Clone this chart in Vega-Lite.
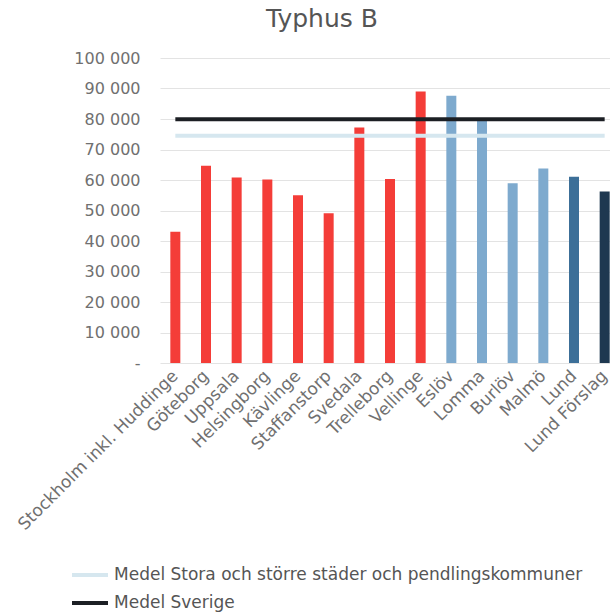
{
  "$schema": "https://vega.github.io/schema/vega-lite/v6.json",
  "width": 460,
  "height": 305,
  "autosize": {"type": "none"},
  "padding": {"left": 160, "top": 58, "right": 0, "bottom": 253},
  "background": "white",
  "title": {
    "text": "Typhus B",
    "anchor": "middle",
    "dx": -68,
    "offset": 18,
    "fontSize": 25,
    "font": "DejaVu Sans",
    "fontWeight": "normal",
    "color": "#555555"
  },
  "config": {
    "view": {"stroke": null},
    "font": "DejaVu Sans"
  },
  "datasets": {
    "bars": [
      {"kommun": "Stockholm inkl. Huddinge", "grupp": "Jämförelse", "kostnad": 43000},
      {"kommun": "Göteborg", "grupp": "Jämförelse", "kostnad": 64700},
      {"kommun": "Uppsala", "grupp": "Jämförelse", "kostnad": 60800},
      {"kommun": "Helsingborg", "grupp": "Jämförelse", "kostnad": 60200},
      {"kommun": "Kävlinge", "grupp": "Jämförelse", "kostnad": 55000},
      {"kommun": "Staffanstorp", "grupp": "Jämförelse", "kostnad": 49100},
      {"kommun": "Svedala", "grupp": "Jämförelse", "kostnad": 77200},
      {"kommun": "Trelleborg", "grupp": "Jämförelse", "kostnad": 60300},
      {"kommun": "Vellinge", "grupp": "Jämförelse", "kostnad": 89000},
      {"kommun": "Eslöv", "grupp": "Grannar", "kostnad": 87600},
      {"kommun": "Lomma", "grupp": "Grannar", "kostnad": 79500},
      {"kommun": "Burlöv", "grupp": "Grannar", "kostnad": 58900},
      {"kommun": "Malmö", "grupp": "Grannar", "kostnad": 63800},
      {"kommun": "Lund", "grupp": "Lund", "kostnad": 61100},
      {"kommun": "Lund Förslag", "grupp": "Lund Förslag", "kostnad": 56200}
    ],
    "medel": [
      {"serie": "Medel Stora och större städer och pendlingskommuner", "kostnad": 74500, "fran": "Stockholm inkl. Huddinge", "till": "Lund Förslag"},
      {"serie": "Medel Sverige", "kostnad": 79900, "fran": "Stockholm inkl. Huddinge", "till": "Lund Förslag"}
    ]
  },
  "encoding": {
    "y": {
      "field": "kostnad",
      "type": "quantitative",
      "scale": {"domain": [0, 100000], "nice": false},
      "axis": {
        "title": null,
        "values": [0, 10000, 20000, 30000, 40000, 50000, 60000, 70000, 80000, 90000, 100000],
        "labelExpr": "datum.value == 0 ? '-' : replace(format(datum.value, ',d'), ',', ' ')",
        "labelFontSize": 16,
        "labelColor": "#707070",
        "labelPadding": 20,
        "labelOverlap": false,
        "ticks": false,
        "domain": false,
        "gridColor": "#e3e3e3",
        "gridWidth": 1
      }
    }
  },
  "layer": [
    {
      "data": {"name": "bars"},
      "mark": {"type": "bar", "size": 10},
      "encoding": {
        "x": {
          "field": "kommun",
          "type": "nominal",
          "sort": null,
          "scale": {
            "domain": ["Stockholm inkl. Huddinge", "Göteborg", "Uppsala", "Helsingborg", "Kävlinge", "Staffanstorp", "Svedala", "Trelleborg", "Vellinge", "Eslöv", "Lomma", "Burlöv", "Malmö", "Lund", "Lund Förslag"],
            "paddingInner": 0, "paddingOuter": 0
          },
          "axis": {
            "title": null,
            "labelAngle": -45,
            "labelFontSize": 17,
            "labelColor": "#707070",
            "ticks": false,
            "domain": false,
            "grid": false,
            "labelPadding": 10,
            "labelAlign": "right",
            "labelBaseline": "middle",
            "labelLimit": 400
          }
        },
        "fill": {
          "field": "grupp",
          "type": "nominal",
          "scale": {"domain": ["Jämförelse", "Grannar", "Lund", "Lund Förslag"], "range": ["#f43d38", "#7eaace", "#3c6f98", "#1e3850"]},
          "legend": null
        }
      }
    },
    {
      "data": {"name": "medel"},
      "mark": {"type": "rule", "strokeWidth": 4},
      "encoding": {
        "x": {"field": "fran", "type": "nominal"},
        "x2": {"field": "till"},
        "stroke": {
          "field": "serie",
          "type": "nominal",
          "sort": null,
          "scale": {"domain": ["Medel Stora och större städer och pendlingskommuner", "Medel Sverige"], "range": ["#d6e7ef", "#1c1f24"]},
          "legend": {
            "title": null,
            "orient": "none",
            "legendX": -90,
            "legendY": 497,
            "symbolType": "stroke",
            "symbolSize": 1296,
            "symbolStrokeWidth": 4,
            "labelFontSize": 17,
            "labelColor": "#555555",
            "labelOffset": 4,
            "rowPadding": 0,
            "labelLimit": 600
          }
        }
      }
    }
  ]
}
